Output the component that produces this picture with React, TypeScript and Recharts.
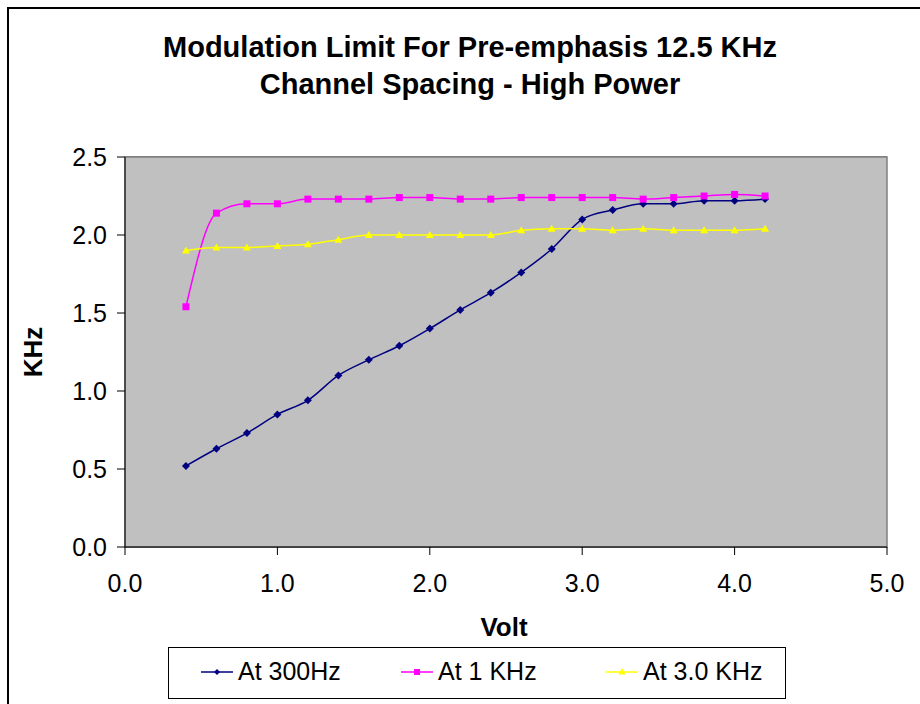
import React from 'react';
import { LineChart, Line, XAxis, YAxis, CartesianGrid, ReferenceArea } from 'recharts';

const volts = [0.4, 0.6, 0.8, 1.0, 1.2, 1.4, 1.6, 1.8, 2.0, 2.2, 2.4, 2.6, 2.8, 3.0, 3.2, 3.4, 3.6, 3.8, 4.0, 4.2];
const at300Hz = [0.52, 0.63, 0.73, 0.85, 0.94, 1.1, 1.2, 1.29, 1.4, 1.52, 1.63, 1.76, 1.91, 2.1, 2.16, 2.2, 2.2, 2.22, 2.22, 2.23];
const at1KHz = [1.54, 2.14, 2.2, 2.2, 2.23, 2.23, 2.23, 2.24, 2.24, 2.23, 2.23, 2.24, 2.24, 2.24, 2.24, 2.23, 2.24, 2.25, 2.26, 2.25];
const at3KHz = [1.9, 1.92, 1.92, 1.93, 1.94, 1.97, 2.0, 2.0, 2.0, 2.0, 2.0, 2.03, 2.04, 2.04, 2.03, 2.04, 2.03, 2.03, 2.03, 2.04];
const xTicks = [0, 1, 2, 3, 4, 5];
const yTicks = [0, 0.5, 1, 1.5, 2, 2.5];

const data = volts.map((v, i) => ({ v, a: at300Hz[i], b: at1KHz[i], c: at3KHz[i] }));

const FONT = 'Liberation Sans, Arial, sans-serif';

function Diamond(props: any) {
  const { cx, cy } = props;
  if (cx == null || cy == null) return null;
  return <path d={`M${cx},${cy - 4}L${cx + 4},${cy}L${cx},${cy + 4}L${cx - 4},${cy}Z`} fill="#000080" />;
}

function Square(props: any) {
  const { cx, cy } = props;
  if (cx == null || cy == null) return null;
  return <rect x={cx - 3.5} y={cy - 3.5} width={7} height={7} fill="#FF00FF" />;
}

function Triangle(props: any) {
  const { cx, cy } = props;
  if (cx == null || cy == null) return null;
  return <path d={`M${cx},${cy - 4}L${cx + 4},${cy + 3}L${cx - 4},${cy + 3}Z`} fill="#FFFF00" />;
}

const legendItems = [
  { label: 'At 300Hz', color: '#000080', left: 200, shape: 'diamond' },
  { label: 'At 1 KHz', color: '#FF00FF', left: 400, shape: 'square' },
  { label: 'At 3.0 KHz', color: '#FFFF00', left: 605, shape: 'triangle' },
];

function LegendIcon({ color, shape }: { color: string; shape: string }) {
  return (
    <svg width={32} height={12} style={{ marginRight: 5 }}>
      <line x1={0} y1={6} x2={32} y2={6} stroke={color} strokeWidth={1.5} />
      {shape === 'diamond' && <path d="M16,3L19,6L16,9L13,6Z" fill={color} />}
      {shape === 'square' && <rect x={13} y={3} width={6} height={6} fill={color} />}
      {shape === 'triangle' && <path d="M16,2L19.5,8.5L12.5,8.5Z" fill={color} />}
    </svg>
  );
}

export default function App() {
  return (
    <div style={{ position: 'absolute', left: 0, top: 0, width: 920, height: 704, overflow: 'hidden', background: '#fff', fontFamily: FONT }}>
      <div style={{ position: 'absolute', left: 7, top: 7, width: 1000, height: 1000, border: '2px solid #000' }} />
      <div style={{ position: 'absolute', left: 0, width: 940, top: 29, textAlign: 'center', fontWeight: 'bold', fontSize: 29, lineHeight: '37px' }}>
        Modulation Limit For Pre-emphasis 12.5 KHz
        <br />
        Channel Spacing - High Power
      </div>
      <div style={{ position: 'absolute', left: 0, top: 0 }}>
        <LineChart width={920} height={704} data={data} margin={{ top: 157, right: 33, bottom: 97, left: 0 }}>
          <ReferenceArea x1={0} x2={5} y1={0} y2={2.5} fill="#C0C0C0" fillOpacity={1} stroke="#808080" strokeWidth={1.5} />
          <CartesianGrid horizontal vertical={false} stroke="#000" strokeOpacity={1} />
          <XAxis
            dataKey="v"
            type="number"
            domain={[0, 5]}
            ticks={xTicks}
            tickFormatter={(t: number) => t.toFixed(1)}
            stroke="#000"
            tickSize={8}
            height={60}
            tick={{ fill: '#000', fontSize: 25, fontFamily: FONT, dy: 17 }}
          />
          <YAxis
            type="number"
            domain={[0, 2.5]}
            ticks={yTicks}
            tickFormatter={(t: number) => t.toFixed(1)}
            stroke="#000"
            tickSize={8}
            width={125}
            tick={{ fill: '#000', fontSize: 25, fontFamily: FONT, dx: -8 }}
          />
          <Line type="monotone" dataKey="a" stroke="#000080" strokeWidth={1.5} dot={<Diamond />} isAnimationActive={false} />
          <Line type="monotone" dataKey="b" stroke="#FF00FF" strokeWidth={1.5} dot={<Square />} isAnimationActive={false} />
          <Line type="monotone" dataKey="c" stroke="#FFFF00" strokeWidth={1.5} dot={<Triangle />} isAnimationActive={false} />
        </LineChart>
      </div>
      <div style={{ position: 'absolute', left: 454, top: 612, width: 100, textAlign: 'center', fontWeight: 'bold', fontSize: 26 }}>Volt</div>
      <div style={{ position: 'absolute', left: 33, top: 352, transform: 'translate(-50%, -50%) rotate(-90deg)', fontWeight: 'bold', fontSize: 26 }}>KHz</div>
      <div style={{ position: 'absolute', left: 168, top: 647, width: 618, height: 52, border: '1px solid #000', boxSizing: 'border-box' }}>
        {legendItems.map((it) => (
          <div key={it.label} style={{ position: 'absolute', left: it.left - 168, top: 9, display: 'flex', alignItems: 'center', fontSize: 25, whiteSpace: 'nowrap' }}>
            <LegendIcon color={it.color} shape={it.shape} />
            {it.label}
          </div>
        ))}
      </div>
    </div>
  );
}
